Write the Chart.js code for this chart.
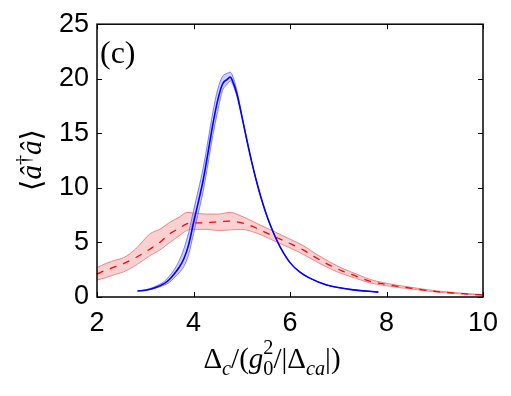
<!DOCTYPE html>
<html>
<head>
<meta charset="utf-8">
<script src="https://cdn.jsdelivr.net/npm/chart.js@4/dist/chart.umd.min.js"></script>
<style>
  html, body { margin: 0; padding: 0; background: #fff; }
  #wrap { width: 511px; height: 396px; }
</style>
</head>
<body>
<div id="wrap"><canvas id="myChart" width="511" height="396"></canvas></div>
<script>
// x ticks and y ticks
var xTicks = [2, 4, 6, 8, 10];
var yTicks = [0, 5, 10, 15, 20, 25];

// blue curve (solid) with narrow band
var blueX  = [2.84, 3.0, 3.2, 3.4, 3.5, 3.6, 3.7, 3.8, 3.9, 4.0, 4.1, 4.2, 4.3, 4.4, 4.5, 4.6, 4.7, 4.76, 4.8, 4.9, 5.0, 5.1, 5.2, 5.3, 5.4, 5.5, 5.6, 5.7, 5.8, 6.0, 6.2, 6.4, 6.76, 7.24, 7.83];
var blueY  = [0.55, 0.62, 0.85, 1.25, 1.6, 2.1, 2.7, 3.5, 4.8, 6.8, 8.7, 10.7, 13.2, 15.8, 18.0, 19.5, 19.95, 20.15, 19.9, 18.6, 16.6, 14.5, 12.5, 10.7, 9.1, 7.7, 6.5, 5.45, 4.55, 3.15, 2.3, 1.75, 1.1, 0.7, 0.45];
var blueLo = [0.55, 0.6, 0.8, 1.1, 1.35, 1.75, 2.2, 2.8, 3.9, 5.8, 7.7, 9.7, 12.2, 14.8, 17.0, 18.9, 19.5, 19.8, 19.6, 18.4, 16.6, 14.5, 12.5, 10.7, 9.1, 7.7, 6.5, 5.45, 4.55, 3.15, 2.3, 1.75, 1.1, 0.7, 0.45];
var blueHi = [0.55, 0.65, 0.95, 1.45, 1.9, 2.5, 3.3, 4.4, 5.9, 7.9, 9.8, 11.8, 14.3, 16.9, 19.0, 20.2, 20.5, 20.6, 20.4, 18.9, 16.7, 14.5, 12.5, 10.7, 9.1, 7.7, 6.5, 5.45, 4.55, 3.15, 2.3, 1.75, 1.1, 0.7, 0.45];

// red curve (dashed) with wide band
var redX  = [2.0, 2.2, 2.4, 2.55, 2.8, 3.1, 3.3, 3.51, 3.7, 3.86, 4.0, 4.27, 4.5, 4.76, 5.0, 5.31, 5.5, 5.72, 6.0, 6.28, 6.5, 6.83, 7.1, 7.38, 7.65, 7.93, 8.2, 8.49, 9.04, 9.59, 10.0];
var redY  = [2.1, 2.5, 2.8, 3.06, 3.6, 4.4, 5.0, 5.8, 6.3, 6.7, 6.8, 6.8, 6.9, 6.95, 6.8, 6.3, 5.9, 5.45, 4.9, 4.3, 3.7, 2.9, 2.35, 1.9, 1.45, 1.2, 1.0, 0.82, 0.5, 0.3, 0.18];
var redLo = [1.55, 1.8, 2.1, 2.3, 2.9, 3.8, 4.3, 5.0, 5.6, 6.1, 6.2, 6.2, 6.1, 6.15, 6.2, 5.85, 5.5, 5.05, 4.5, 3.9, 3.35, 2.6, 2.1, 1.7, 1.3, 1.08, 0.9, 0.75, 0.45, 0.27, 0.16];
var redHi = [2.7, 3.1, 3.4, 3.6, 4.4, 5.8, 6.2, 6.85, 7.3, 7.75, 7.7, 7.6, 7.6, 7.75, 7.4, 6.75, 6.35, 5.9, 5.3, 4.7, 4.05, 3.2, 2.6, 2.1, 1.62, 1.32, 1.1, 0.9, 0.56, 0.34, 0.21];

function pts(xs, ys) {
  var out = [];
  for (var i = 0; i < xs.length; i++) out.push({x: xs[i], y: ys[i]});
  return out;
}

// inward ticks on all four sides, MATLAB style
var boxTicks = {
  id: 'boxTicks',
  afterDraw: function(chart) {
    var ctx = chart.ctx, a = chart.chartArea;
    var xs = chart.scales.x, ys = chart.scales.y;
    var L = 5;
    ctx.save();
    ctx.strokeStyle = '#000';
    ctx.lineWidth = 1;
    ctx.beginPath();
    xTicks.forEach(function(v) {
      var p = Math.round(xs.getPixelForValue(v)) + 0.5;
      ctx.moveTo(p, a.bottom); ctx.lineTo(p, a.bottom - L);
      ctx.moveTo(p, a.top); ctx.lineTo(p, a.top + L);
    });
    yTicks.forEach(function(v) {
      var p = Math.round(ys.getPixelForValue(v)) + 0.5;
      ctx.moveTo(a.left, p); ctx.lineTo(a.left + L, p);
      ctx.moveTo(a.right, p); ctx.lineTo(a.right - L, p);
    });
    ctx.stroke();
    ctx.lineWidth = 1.5;
    ctx.strokeRect(a.left, a.top, a.right - a.left, a.bottom - a.top);
    ctx.restore();
  }
};

var serif = '"Liberation Serif", "DejaVu Serif", serif';

// draw a run of text pieces: [text, style, shift]
function richText(ctx, parts, x, y, size) {
  var cx = x;
  parts.forEach(function(p) {
    var s = p[2] ? size * 0.7 : size;
    ctx.font = (p[1] || '') + ' ' + s + 'px ' + serif;
    ctx.fillText(p[0], cx, y + (p[2] || 0));
    cx += ctx.measureText(p[0]).width;
  });
  return cx - x;
}
function richWidth(ctx, parts, size) {
  var w = 0;
  parts.forEach(function(p) {
    var s = p[2] ? size * 0.7 : size;
    ctx.font = (p[1] || '') + ' ' + s + 'px ' + serif;
    w += ctx.measureText(p[0]).width;
  });
  return w;
}

var labels = {
  id: 'labels',
  afterDraw: function(chart) {
    var ctx = chart.ctx, a = chart.chartArea;
    ctx.save();
    ctx.fillStyle = '#000';
    ctx.textBaseline = 'alphabetic';
    ctx.textAlign = 'left';

    // panel label
    ctx.font = '32px ' + serif;
    ctx.fillText('(c)', a.left + 3, 63);

    // x title
    var sz = 29;
    var xp = [['Δ', ''], ['c', 'italic', 7], ['/(', ''], ['g', 'italic'], ['0', '', 7], ['/|Δ', ''], ['ca', 'italic', 7], ['|)', '']];
    var w = richWidth(ctx, xp, sz);
    var cx = 272 - w / 2;
    richText(ctx, xp, cx, 368, sz);
    // the little 2 above the 0
    var gw = richWidth(ctx, [['Δ', ''], ['c', 'italic', 7], ['/(', ''], ['g', 'italic']], sz);
    ctx.font = (sz * 0.7) + 'px ' + serif;
    ctx.fillText('2', cx + gw, 354);

    // y title, rotated
    ctx.translate(41, 160);
    ctx.rotate(-Math.PI / 2);
    var yp = [['⟨', ''], ['â', 'italic'], ['†', '', -11], ['â', 'italic'], ['⟩', '']];
    var yw = richWidth(ctx, yp, 29);
    richText(ctx, yp, -yw / 2, 0, 29);
    ctx.restore();
  }
};

var ctx = document.getElementById('myChart').getContext('2d');
var myChart = new Chart(ctx, {
  type: 'line',
  data: {
    datasets: [
      {
        data: pts(blueX, blueY), borderColor: 'rgb(0,0,255)', borderWidth: 1.6,
        pointRadius: 0, fill: false, cubicInterpolationMode: 'monotone', order: 0
      },
      {
        data: pts(redX, redY), borderColor: 'rgb(255,0,0)', borderWidth: 1.3, borderDash: [7, 7],
        pointRadius: 0, fill: false, cubicInterpolationMode: 'monotone', order: 0
      },
      {
        data: pts(blueX, blueHi), borderColor: 'rgba(110,110,255,0.9)', borderWidth: 1,
        backgroundColor: 'rgba(120,120,255,0.35)', pointRadius: 0, fill: '+1',
        cubicInterpolationMode: 'monotone', order: 1
      },
      {
        data: pts(blueX, blueLo), borderColor: 'rgba(110,110,255,0.9)', borderWidth: 1,
        pointRadius: 0, fill: false, cubicInterpolationMode: 'monotone', order: 1
      },
      {
        data: pts(redX, redHi), borderColor: 'rgba(240,120,120,0.9)', borderWidth: 1,
        backgroundColor: 'rgba(245,150,150,0.45)', pointRadius: 0, fill: '+1',
        cubicInterpolationMode: 'monotone', order: 2
      },
      {
        data: pts(redX, redLo), borderColor: 'rgba(240,120,120,0.9)', borderWidth: 1,
        pointRadius: 0, fill: false, cubicInterpolationMode: 'monotone', order: 2
      }
    ]
  },
  options: {
    responsive: false,
    animation: false,
    events: [],
    layout: { padding: { left: 0, top: 22, right: 28, bottom: 0 } },
    plugins: { legend: { display: false }, tooltip: { enabled: false } },
    scales: {
      x: {
        type: 'linear', min: 2, max: 10,
        afterBuildTicks: function(s) { s.ticks = xTicks.map(function(v) { return {value: v}; }); },
        afterFit: function(s) { s.height = 99; },
        grid: { display: false, drawTicks: false },
        border: { display: false },
        ticks: { color: '#000', padding: 10, maxRotation: 0, font: { family: '"Liberation Sans", Arial, sans-serif', size: 27 } }
      },
      y: {
        type: 'linear', min: 0, max: 25,
        afterBuildTicks: function(s) { s.ticks = yTicks.map(function(v) { return {value: v}; }); },
        afterFit: function(s) { s.width = 97; },
        grid: { display: false, drawTicks: false },
        border: { display: false },
        ticks: { color: '#000', padding: 8, font: { family: '"Liberation Sans", Arial, sans-serif', size: 27 } }
      }
    }
  },
  plugins: [boxTicks, labels]
});
</script>
</body>
</html>
